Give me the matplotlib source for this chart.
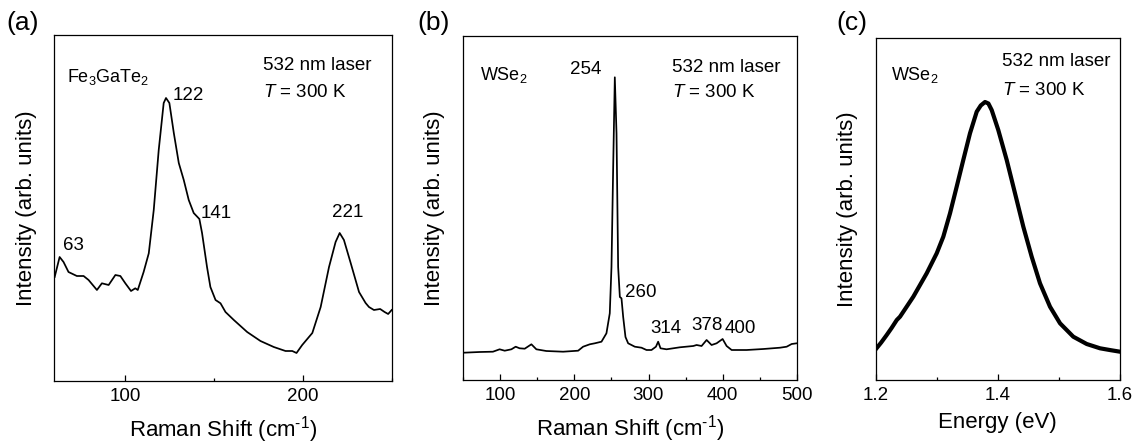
import matplotlib
matplotlib.use("Agg")
import matplotlib.pyplot as plt
from matplotlib.ticker import MultipleLocator

plt.rcParams['font.family'] = ['Liberation Sans', 'DejaVu Sans']
plt.rcParams['mathtext.fontset'] = 'custom'
plt.rcParams['mathtext.rm'] = 'Liberation Sans'
plt.rcParams['mathtext.it'] = 'Liberation Sans:italic'
plt.rcParams['mathtext.bf'] = 'Liberation Sans:bold'

# ---------------- data ----------------
# (a) Fe3GaTe2 Raman spectrum
raman_a_shift = [60.2, 63.0, 65.2, 68.0, 72.7, 76.5, 79.3, 84.0, 86.8, 90.6, 94.4, 97.2,
                 100.0, 103.2, 105.6, 107.0, 110.3, 113.2, 116.0, 118.8, 121.6, 122.9,
                 124.8, 127.3, 130.1, 132.9, 135.7, 138.5, 141.7, 143.2, 146.0, 147.9,
                 150.8, 153.6, 156.4, 161.1, 168.6, 176.1, 183.6, 190.2, 194.0, 196.4,
                 199.6, 205.3, 210.0, 214.7, 218.4, 220.7, 223.1, 226.9, 231.6, 235.3,
                 237.2, 240.0, 243.5, 246.0, 248.0, 250.0]
raman_a_int = [104, 124, 119, 109, 105, 105, 101, 91, 97.7, 96, 106, 105,
               97.7, 90, 92.7, 91, 109, 127.7, 171, 231, 278, 283,
               278, 248, 218, 201, 181, 168, 162, 148, 114, 94,
               81, 77.7, 69, 61, 49, 40, 34, 30, 30, 28,
               36, 48, 74, 114, 139, 148, 141, 118, 89, 78,
               74, 71, 72, 69, 67, 71]

# (b) WSe2 Raman spectrum
raman_b_shift = [50.5, 72, 90, 99, 105.9, 114.9, 120.7, 126, 132.9, 141.9, 148.6, 162,
                 184.7, 205, 211.7, 220.7, 227.5, 236.5, 243.2, 247.7, 250, 252.3, 254.5,
                 256.8, 259, 261.3, 263.5, 265.8, 268.9, 272.5, 281.5, 290.5, 297.3, 304,
                 310, 313, 316.2, 324.3, 342.3, 360.4, 364.9, 371.6, 378.4, 385.1, 391.9,
                 400, 405.4, 412.2, 432.4, 455, 477.5, 486.5, 493.2, 500]
raman_b_int = [27.3, 28, 28.3, 30.7, 29.3, 30.7, 33.3, 31.7, 31.3, 35.7, 30.7, 29,
               28.3, 29.3, 33.3, 35.7, 36.7, 38.3, 46.7, 66.7, 113, 213, 302.7,
               246.7, 113, 83, 81.7, 63, 43, 36.7, 33.3, 32.3, 30, 30,
               33.3, 38.3, 31.7, 30.7, 32.7, 34, 35, 34, 40, 35, 36.7,
               41, 34, 30, 30, 31, 32.3, 33.3, 36, 36.7]

# (c) WSe2 photoluminescence spectrum
pl_energy = [1.200, 1.209, 1.218, 1.226, 1.2345, 1.2398, 1.2616, 1.2835, 1.2999, 1.3107,
             1.3217, 1.3326, 1.3434, 1.3544, 1.3654, 1.372, 1.379, 1.3845, 1.3899,
             1.4007, 1.4145, 1.4281, 1.4417, 1.4554, 1.469, 1.4854, 1.5018, 1.5235,
             1.5455, 1.5673, 1.585, 1.600]
pl_int = [30.7, 37.5, 45, 52, 60, 63.3, 83.3, 106.7, 126.7, 143.3,
          166.7, 193.3, 220, 246.7, 268.3, 274.5, 278, 276.5, 270,
          250, 220, 186.7, 153.3, 123.3, 96.7, 73.3, 56.7, 43.3,
          36, 31.7, 29.8, 28.3]

peaks_a = [63, 122, 141, 221]
peaks_b = [254, 260, 314, 378, 400]

# ---------------- figure ----------------
W, H = 1140, 444
fig = plt.figure(figsize=(W / 100, H / 100), dpi=100)

def px_axes(l, t, r, b):
    return fig.add_axes([l / W, 1 - b / H, (r - l) / W, (b - t) / H])

ax_a = px_axes(54.3, 35, 391.7, 381)
ax_b = px_axes(463.3, 36, 796.7, 380)
ax_c = px_axes(875.7, 38, 1120, 380)

TICK_FS = 13.5
LAB_FS = 16
ANN_FS = 13.5
XLAB = r'Raman Shift (cm$^{\mathrm{\text{-}1}}$)'

for ax in (ax_a, ax_b, ax_c):
    for s in ax.spines.values():
        s.set_linewidth(0.9)
    ax.tick_params(axis='x', which='both', direction='in', top=False,
                   labelsize=TICK_FS, pad=5, width=0.9)
    ax.tick_params(axis='x', which='major', length=4)
    ax.tick_params(axis='x', which='minor', length=2.5)
    ax.tick_params(axis='y', which='both', left=False, labelleft=False)
    ax.set_ylabel('Intensity (arb. units)', fontsize=LAB_FS)

# (a)
ax_a.plot(raman_a_shift, raman_a_int, color='black', lw=1.25)
ax_a.set_xlim(60, 250)
ax_a.set_ylim(0, 346)
ax_a.xaxis.set_major_locator(MultipleLocator(100))
ax_a.xaxis.set_minor_locator(MultipleLocator(50))
ax_a.set_xlabel(XLAB, fontsize=LAB_FS)
ann_a = {63: (64.9, 131), 122: (126.4, 281), 141: (142.2, 163), 221: (216.6, 164)}
for p in peaks_a:
    ax_a.text(*ann_a[p], str(p), fontsize=ANN_FS, ha='left', va='baseline')
ax_a.text(0.038, 0.865, 'Fe$_3$GaTe$_2$', transform=ax_a.transAxes, fontsize=13,
          ha='left', va='baseline')
ax_a.text(0.619, 0.899, '532 nm laser', transform=ax_a.transAxes, fontsize=ANN_FS,
          ha='left', va='baseline')
ax_a.text(0.619, 0.82, '$T$ = 300 K', transform=ax_a.transAxes, fontsize=ANN_FS,
          ha='left', va='baseline')
ax_a.yaxis.set_label_coords(-0.052, 0.5)
ax_a.xaxis.set_label_coords(0.5, -0.095)

# (b)
ax_b.plot(raman_b_shift, raman_b_int, color='black', lw=1.25)
ax_b.set_xlim(50, 500)
ax_b.set_ylim(0, 344)
ax_b.xaxis.set_major_locator(MultipleLocator(100))
ax_b.xaxis.set_minor_locator(MultipleLocator(50))
ax_b.set_xlabel(XLAB, fontsize=LAB_FS)
ann_b = {254: (194.6, 306), 260: (268, 82.7), 314: (302.7, 47.3), 378: (358, 50), 400: (403, 47.3)}
for p in peaks_b:
    ax_b.text(*ann_b[p], str(p), fontsize=ANN_FS, ha='left', va='baseline')
ax_b.text(0.05, 0.872, 'WSe$_2$', transform=ax_b.transAxes, fontsize=13,
          ha='left', va='baseline')
ax_b.text(0.625, 0.896, '532 nm laser', transform=ax_b.transAxes, fontsize=ANN_FS,
          ha='left', va='baseline')
ax_b.text(0.625, 0.822, '$T$ = 300 K', transform=ax_b.transAxes, fontsize=ANN_FS,
          ha='left', va='baseline')
ax_b.yaxis.set_label_coords(-0.055, 0.5)
ax_b.xaxis.set_label_coords(0.5, -0.095)

# (c)
ax_c.plot(pl_energy, pl_int, color='black', lw=3.0, solid_joinstyle='round')
ax_c.set_xlim(1.2, 1.6)
ax_c.set_ylim(0, 342)
ax_c.xaxis.set_major_locator(MultipleLocator(0.2))
ax_c.xaxis.set_minor_locator(MultipleLocator(0.1))
ax_c.set_xlabel('Energy (eV)', fontsize=LAB_FS)
ax_c.text(0.061, 0.877, 'WSe$_2$', transform=ax_c.transAxes, fontsize=13,
          ha='left', va='baseline')
ax_c.text(0.516, 0.918, '532 nm laser', transform=ax_c.transAxes, fontsize=ANN_FS,
          ha='left', va='baseline')
ax_c.text(0.518, 0.833, '$T$ = 300 K', transform=ax_c.transAxes, fontsize=ANN_FS,
          ha='left', va='baseline')
ax_c.yaxis.set_label_coords(-0.071, 0.5)
ax_c.xaxis.set_label_coords(0.5, -0.095)

# panel labels
for lab, xp in (('(a)', 6), ('(b)', 417), ('(c)', 836)):
    fig.text(xp / W, 1 - 30 / H, lab, fontsize=19, ha='left', va='baseline')

fig.savefig('out.png', dpi=100)
